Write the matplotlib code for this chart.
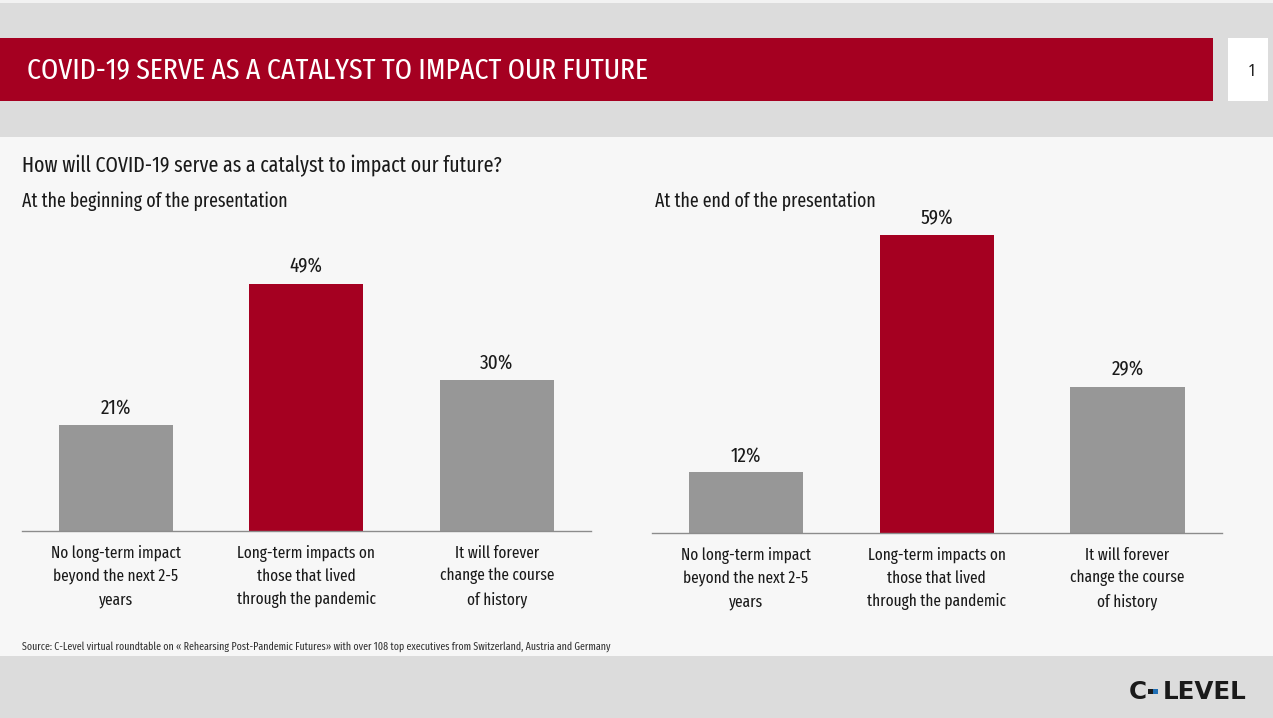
import matplotlib
matplotlib.use("Agg")
import matplotlib.pyplot as plt
from matplotlib.patches import Rectangle

FAMILY = ['Fira Sans Extra Condensed', 'Fira Sans Condensed', 'DejaVu Sans']
plt.rcParams['font.family'] = FAMILY
plt.rcParams['font.stretch'] = 'condensed'

categories = ["No long-term impact\nbeyond the next 2-5\nyears",
              "Long-term impacts on\nthose that lived\nthrough the pandemic",
              "It will forever\nchange the course\nof history"]
values_begin = [21, 49, 30]
values_end = [12, 59, 29]
bar_colors = ["#979797", "#a50021", "#979797"]

W, H = 1273, 718
fig = plt.figure(figsize=(W / 100, H / 100), dpi=100)
renderer = fig.canvas.get_renderer()

def fit_size(s, target_px, base=20, **kw):
    t = fig.text(0, 0, s, fontsize=base, **kw)
    w = t.get_window_extent(renderer=renderer).width
    t.remove()
    return base * target_px / w

def px_rect(x0, y0, x1, y1, color, z=0):
    fig.patches.append(Rectangle((x0 / W, 1 - y1 / H), (x1 - x0) / W, (y1 - y0) / H,
                                 transform=fig.transFigure, facecolor=color,
                                 edgecolor='none', zorder=z))

px_rect(0, 0, W, H, "#f7f7f7", -5)
px_rect(0, 0, W, 137, "#dcdcdc", -4)
px_rect(0, 656, W, H, "#dcdcdc", -4)
px_rect(0, 0, W, 3, "#f2f2f2", -3)
px_rect(0, 38, 1213, 101, "#a50021", -3)
px_rect(1228, 38, 1268, 101, "#ffffff", -3)

def ftext(x, y, s, target=None, **kw):
    if target is not None:
        kw['fontsize'] = fit_size(s, target, fontweight=kw.get('fontweight', 'normal'),
                                  family=kw.get('family', FAMILY),
                                  fontstretch=kw.get('fontstretch', 'condensed'))
    fig.text(x / W, 1 - y / H, s, **kw)

title = "COVID-19 SERVE AS A CATALYST TO IMPACT OUR FUTURE"
question = "How will COVID-19 serve as a catalyst to impact our future?"
sub_left = "At the beginning of the presentation"
sub_right = "At the end of the presentation"
source = "Source: C-Level virtual roundtable on « Rehearsing Post-Pandemic Futures» with over 108 top executives from Switzerland, Austria and Germany"

ftext(27, 70, title, target=621, color="white", va="center", ha="left", zorder=3)
ftext(1252, 71, "1", color="#222222", fontsize=12, va="center", ha="center", zorder=3)
ftext(22, 166, question, target=479, color="#1a1a1a", va="center", ha="left")
ftext(22, 201, sub_left, target=266, color="#1a1a1a", va="center", ha="left")
ftext(655, 201, sub_right, target=220, color="#1a1a1a", va="center", ha="left")
ftext(22, 647, source, target=589, color="#333333", va="center", ha="left")

# logo
logo_kw = dict(color="#1a1a1a", fontweight="heavy", family="DejaVu Sans",
               fontstretch="normal", va="baseline", ha="left")
logo_fs = fit_size("LEVEL", 84, fontweight="heavy", family="DejaVu Sans", fontstretch="normal")
ftext(1129, 699, "C", fontsize=logo_fs, **logo_kw)
ftext(1163, 699, "LEVEL", fontsize=logo_fs, **logo_kw)
px_rect(1148, 689, 1153, 694, "#1a1a1a", -2)
px_rect(1153, 689, 1158, 694, "#1f6fb5", -2)

px_per_pct = 5.05
tick_fs = fit_size("through the pandemic", 139)
val_fs = fit_size("49%", 33)

def make_axes(x0, x1, base_y, top_y, values):
    ax = fig.add_axes([x0 / W, 1 - base_y / H, (x1 - x0) / W, (base_y - top_y) / H])
    ax.set_zorder(5)
    ax.set_facecolor('none')
    x = list(range(len(values)))
    ax.bar(x, values, width=0.6, color=bar_colors, zorder=2)
    ax.set_xlim(-0.493, 2.495)
    ax.set_ylim(0, (base_y - top_y) / px_per_pct)
    for xi, v in zip(x, values):
        ax.annotate(f"{v}%", (xi, v), xytext=(0, 5), textcoords="offset points",
                    ha="center", va="bottom", fontsize=val_fs, color="#1a1a1a")
    for s in ["top", "right", "left"]:
        ax.spines[s].set_visible(False)
    ax.spines["bottom"].set_color("#8c8c8c")
    ax.spines["bottom"].set_linewidth(1.0)
    ax.set_yticks([])
    ax.set_xticks(x)
    ax.set_xticklabels(categories, fontsize=tick_fs, color="#1a1a1a", linespacing=1.52)
    ax.tick_params(axis="x", length=0, pad=10)
    return ax

make_axes(22, 591, 531, 220, values_begin)
make_axes(652, 1222, 533, 222, values_end)

fig.savefig("out.png", dpi=100)
